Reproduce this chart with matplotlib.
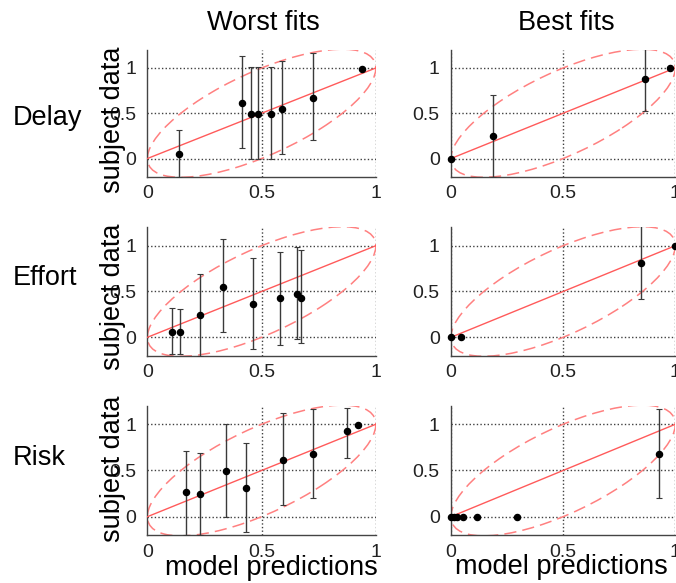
import numpy as np
import matplotlib
matplotlib.use("Agg")
import matplotlib.pyplot as plt
from matplotlib.patches import Ellipse

plt.rcParams['font.family'] = ['Liberation Sans', 'DejaVu Sans']

# ---- data (model prediction x, subject data y, error bar low/high) ----
delay_worst_x = [0.139, 0.413, 0.454, 0.483, 0.540, 0.590, 0.723, 0.939]
delay_worst_y = [0.055, 0.618, 0.489, 0.489, 0.489, 0.55, 0.673, 0.99]
delay_worst_lo = [-0.2, 0.12, -0.01, -0.01, -0.01, 0.05, 0.21, None]
delay_worst_hi = [0.32, 1.13, 1.01, 1.01, 1.01, 1.08, 1.17, None]

delay_best_x = [0.0, 0.187, 0.865, 0.978]
delay_best_y = [0.0, 0.245, 0.874, 0.996]
delay_best_lo = [None, -0.2, 0.53, None]
delay_best_hi = [None, 0.70, 1.21, None]

effort_worst_x = [0.107, 0.142, 0.229, 0.33, 0.461, 0.58, 0.654, 0.673]
effort_worst_y = [0.062, 0.062, 0.247, 0.553, 0.367, 0.433, 0.476, 0.433]
effort_worst_lo = [-0.18, -0.18, -0.2, 0.055, -0.127, -0.084, -0.022, -0.065]
effort_worst_hi = [0.32, 0.305, 0.69, 1.07, 0.862, 0.935, 0.989, 0.953]

effort_best_x = [0.0, 0.046, 0.848, 0.997]
effort_best_y = [0.0, 0.0, 0.812, 1.0]
effort_best_lo = [None, None, 0.417, None]
effort_best_hi = [None, None, 1.21, None]

risk_worst_x = [0.168, 0.229, 0.343, 0.431, 0.593, 0.723, 0.873, 0.92]
risk_worst_y = [0.264, 0.245, 0.495, 0.307, 0.614, 0.679, 0.928, 0.993]
risk_worst_lo = [-0.2, -0.2, -0.007, -0.162, 0.126, 0.2, 0.64, None]
risk_worst_hi = [0.711, 0.693, 1.0, 0.794, 1.12, 1.16, 1.18, None]

risk_best_x = [0.0, 0.012, 0.025, 0.055, 0.117, 0.295, 0.926]
risk_best_y = [0.0, 0.0, 0.0, 0.0, 0.0, 0.0, 0.682]
risk_best_lo = [None, None, None, None, None, None, 0.2]
risk_best_hi = [None, None, None, None, None, None, 1.166]

row_labels = ["Delay", "Effort", "Risk"]
col_titles = ["Worst fits", "Best fits"]
ticks = [0, 0.5, 1]
tick_labels = ["0", "0.5", "1"]

panels = [
    [(delay_worst_x, delay_worst_y, delay_worst_lo, delay_worst_hi),
     (delay_best_x, delay_best_y, delay_best_lo, delay_best_hi)],
    [(effort_worst_x, effort_worst_y, effort_worst_lo, effort_worst_hi),
     (effort_best_x, effort_best_y, effort_best_lo, effort_best_hi)],
    [(risk_worst_x, risk_worst_y, risk_worst_lo, risk_worst_hi),
     (risk_best_x, risk_best_y, risk_best_lo, risk_best_hi)],
]

fig = plt.figure(figsize=(6.76, 5.83), dpi=100)

col_left = [0.218, 0.667]
col_w = [0.338, 0.332]
row_bottom = [0.697, 0.390, 0.082]
row_h = [0.2175, 0.220, 0.222]

ylabel_y = [1 - 120 / 583, 1 - 297 / 583, 1 - 469 / 583]
rowlabel_y = [1 - 118 / 583, 1 - 278 / 583, 1 - 458 / 583]

FS = 19.5
red = '#ff5a5a'
ell_red = '#ff8080'
grid_c = '#404040'

for r in range(3):
    for c in range(2):
        ax = fig.add_axes([col_left[c], row_bottom[r], col_w[c], row_h[r]])
        x, y, lo, hi = panels[r][c]
        ax.set_xlim(0, 1)
        ax.set_ylim(-0.2, 1.2)
        # grid
        for g in [0.5, 1.0]:
            ax.axvline(g, color=grid_c, ls=(0, (1.0, 1.6)), lw=1.0, zorder=1)
        if c == 1:
            ax.axvline(0.0, color='#777777', ls=(0, (1.0, 1.6)), lw=1.0, zorder=1)
        for g in [0.0, 0.5, 1.0]:
            ax.axhline(g, color=grid_c, ls=(0, (1.0, 1.6)), lw=1.0, zorder=1)
        # ellipse: x = .5+.5cos t, y = .5+.5(cos t + sin t)
        ell = Ellipse((0.5, 0.5), width=2 * 0.809, height=2 * 0.309, angle=58.28,
                      fill=False, edgecolor=ell_red, lw=1.1,
                      ls=(0, (8, 4)), zorder=2)
        ax.add_patch(ell)
        ax.plot([0, 1], [0, 1], color=red, lw=1.0, zorder=3)
        # error bars
        for xi, yi, l, h in zip(x, y, lo, hi):
            if l is not None:
                ax.errorbar([xi], [yi], yerr=[[yi - l], [h - yi]], fmt='none',
                            ecolor='#3a3a3a', elinewidth=1.0, capsize=2.5,
                            capthick=0.8, zorder=4)
        ax.plot(x, y, 'o', color='black', ms=4.4, zorder=5, clip_on=False)
        ax.set_xticks(ticks)
        ax.set_xticklabels(tick_labels)
        ax.set_yticks(ticks)
        ax.set_yticklabels(tick_labels)
        ax.tick_params(length=0, labelsize=14, labelcolor='#222222', pad=6)
        ax.tick_params(axis='y', pad=8)
        for s in ['top', 'right']:
            ax.spines[s].set_visible(False)
        for s in ['left', 'bottom']:
            ax.spines[s].set_color('#444444')
            ax.spines[s].set_linewidth(1.0)
        if c == 0:
            fig.text(113 / 676, ylabel_y[r], "subject data", rotation=90,
                     ha='center', va='center', fontsize=FS)
    fig.text(13 / 676, rowlabel_y[r], row_labels[r], ha='left', va='center', fontsize=FS)

fig.text(263 / 676, 1 - 23 / 583, col_titles[0], ha='center', va='center', fontsize=FS)
fig.text(566 / 676, 1 - 23 / 583, col_titles[1], ha='center', va='center', fontsize=FS)
fig.text(271 / 676, 1 - 568 / 583, "model predictions", ha='center', va='center', fontsize=FS)
fig.text(561 / 676, 1 - 567 / 583, "model predictions", ha='center', va='center', fontsize=FS)

fig.savefig("out.png", dpi=100)
